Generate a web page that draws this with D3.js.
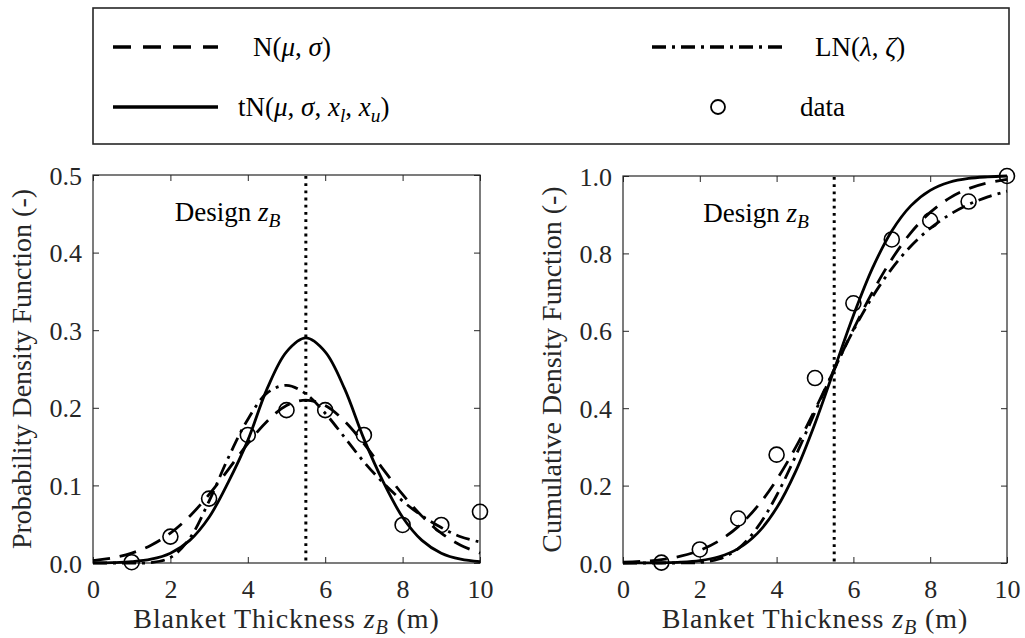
<!DOCTYPE html>
<html>
<head>
<meta charset="utf-8">
<script src="https://cdn.jsdelivr.net/npm/d3@7"></script>
<style>
  html, body { margin: 0; padding: 0; background: #fff; }
  svg { display: block; }
  text { font-family: "Liberation Serif", "DejaVu Serif", serif; }
</style>
</head>
<body>
<svg id="chart" width="1025" height="638" font-family="Liberation Serif, DejaVu Serif, serif"></svg>
<script>
// ---------------- data ----------------
const curveX = [0,0.5,1,1.5,2,2.5,3,3.5,4,4.5,5,5.5,6,6.5,7,7.5,8,8.5,9,9.5,10];

const pdfNormal = [0.0032,0.0066,0.0127,0.0229,0.0385,0.0604,0.0883,0.1207,0.1538,0.1828,0.2029,0.2100,0.2029,0.1828,0.1538,0.1207,0.0883,0.0604,0.0385,0.0229,0.0127];
const pdfTrunc  = [0.0001,0.0005,0.0017,0.0049,0.0127,0.0292,0.0590,0.1045,0.1580,0.2247,0.2721,0.2900,0.2721,0.2247,0.1600,0.1045,0.0590,0.0292,0.0127,0.0049,0.0017];
const pdfLogn   = [0,0,0,0.0005,0.0070,0.0319,0.0798,0.1360,0.1850,0.2191,0.2290,0.2180,0.1930,0.1620,0.1303,0.1032,0.0799,0.0608,0.0457,0.0339,0.0270];

const cdfNormal = [0.0019,0.0042,0.0089,0.0176,0.0327,0.0572,0.0941,0.1462,0.2150,0.2994,0.3962,0.5000,0.6038,0.7006,0.7850,0.8538,0.9059,0.9428,0.9673,0.9824,0.9911];
const cdfTrunc  = [0,0.0002,0.0007,0.0021,0.0062,0.0161,0.0371,0.0766,0.1420,0.2375,0.3605,0.5000,0.6395,0.7625,0.8580,0.9234,0.9629,0.9839,0.9938,0.9979,1.0000];
const cdfLogn   = [0,0,0,0.0001,0.0015,0.0102,0.0373,0.0919,0.1744,0.2776,0.3897,0.5000,0.6010,0.6884,0.7609,0.8192,0.8648,0.8998,0.9263,0.9460,0.9607];

const dataX   = [1,2,3,4,5,6,7,8,9,10];
const dataPdf = [0.001,0.034,0.083,0.165,0.197,0.197,0.165,0.049,0.049,0.066];
const dataCdf = [0.001,0.035,0.115,0.280,0.478,0.671,0.836,0.885,0.934,1.000];

const designZ = 5.5;
const xTicks   = [0,2,4,6,8,10];
const pdfTicks = [0,0.1,0.2,0.3,0.4,0.5];
const cdfTicks = [0,0.2,0.4,0.6,0.8,1.0];

// ---------------- drawing ----------------
const svg = d3.select("#chart");
const AX = "#262626";
const FONT = "Liberation Serif, DejaVu Serif, serif";
const styles = {
  normal: {dash: "17,10"},
  trunc:  {dash: null},
  logn:   {dash: "14,6,3,6"}
};

function addMath(sel, parts, size) {
  // parts: [text, italic?, sub?, unsub?]
  parts.forEach(p => {
    const t = sel.append("tspan").text(p[0]);
    if (p[1]) t.attr("font-style", "italic");
    if (p[2]) t.attr("font-size", size * 0.72).attr("dy", size * 0.22);
    if (p[3]) t.attr("dy", -size * 0.22);
  });
}

function panel(opts) {
  const {x0, x1, y0, y1, yDomain, yTicks, series, pts, ylabel, ylabelX} = opts;
  const g = svg.append("g").attr("font-family", FONT);
  const x = d3.scaleLinear().domain([0, 10]).range([x0, x1]);
  const y = d3.scaleLinear().domain(yDomain).range([y1, y0]);

  const fmt = d3.format(".1f");
  const bottom = g.append("g").attr("transform", `translate(0,${y1})`)
    .call(d3.axisBottom(x).tickValues(xTicks).tickSizeInner(-6).tickSizeOuter(0).tickPadding(17).tickFormat(d3.format("d")));
  const top = g.append("g").attr("transform", `translate(0,${y0})`)
    .call(d3.axisTop(x).tickValues(xTicks).tickSizeInner(-6).tickSizeOuter(0).tickFormat(""));
  const left = g.append("g").attr("transform", `translate(${x0},0)`)
    .call(d3.axisLeft(y).tickValues(yTicks).tickSizeInner(-6).tickSizeOuter(0).tickPadding(11).tickFormat(fmt));
  const right = g.append("g").attr("transform", `translate(${x1},0)`)
    .call(d3.axisRight(y).tickValues(yTicks).tickSizeInner(-6).tickSizeOuter(0).tickFormat(""));
  [bottom, top, left, right].forEach(a => {
    a.attr("font-family", FONT).attr("font-size", 26);
    a.select(".domain").remove();
    a.selectAll(".tick line").attr("stroke", AX).attr("stroke-width", 1);
    a.selectAll(".tick text").attr("fill", AX);
  });
  bottom.selectAll(".tick text").attr("dy", "0.71em");
  left.selectAll(".tick text").attr("dy", "0.35em");

  g.append("rect").attr("x", x0).attr("y", y0).attr("width", x1 - x0).attr("height", y1 - y0)
    .attr("fill", "none").attr("stroke", AX).attr("stroke-width", 1.2);

  g.append("line").attr("x1", x(designZ)).attr("x2", x(designZ))
    .attr("y1", y0 + 1).attr("y2", y1 - 1)
    .attr("stroke", "#000").attr("stroke-width", 3).attr("stroke-dasharray", "2.8,4.4");

  const dl = g.append("text").attr("x", x(designZ) - 131).attr("y", y0 + 46)
    .attr("font-size", 27).attr("fill", "#000");
  addMath(dl, [["Design "], ["z", true], ["B", true, true]], 27);

  const line = d3.line().x((d, i) => x(curveX[i])).y(d => y(d)).curve(d3.curveCatmullRom.alpha(0.5));
  series.forEach(s => {
    const p = g.append("path").attr("d", line(s.values)).attr("fill", "none")
      .attr("stroke", "#000").attr("stroke-width", 2.8).attr("stroke-linejoin", "round");
    if (s.style.dash) p.attr("stroke-dasharray", s.style.dash);
  });

  g.selectAll("circle.pt").data(pts).join("circle").attr("class", "pt")
    .attr("cx", (d, i) => x(dataX[i])).attr("cy", d => y(d)).attr("r", 7.5)
    .attr("fill", "none").attr("stroke", "#000").attr("stroke-width", 1.6);

  const xl = g.append("text").attr("x", (x0 + x1) / 2).attr("y", 628)
    .attr("text-anchor", "middle").attr("font-size", 28).attr("fill", AX).attr("letter-spacing", 0.9);
  addMath(xl, [["Blanket Thickness "], ["z", true], ["B", true, true], [" (m)", false, false, true]], 28);

  g.append("text").attr("transform", `translate(${ylabelX},${(y0 + y1) / 2}) rotate(-90)`)
    .attr("text-anchor", "middle").attr("font-size", 28).attr("fill", AX)
    .text(ylabel);
}

panel({
  x0: 93, x1: 480, y0: 175, y1: 563,
  yDomain: [0, 0.5], yTicks: pdfTicks,
  series: [
    {values: pdfNormal, style: styles.normal},
    {values: pdfLogn, style: styles.logn},
    {values: pdfTrunc, style: styles.trunc}
  ],
  pts: dataPdf,
  ylabel: "Probability Density Function (-)", ylabelX: 31
});

panel({
  x0: 623, x1: 1007, y0: 176, y1: 563,
  yDomain: [0, 1], yTicks: cdfTicks,
  series: [
    {values: cdfNormal, style: styles.normal},
    {values: cdfLogn, style: styles.logn},
    {values: cdfTrunc, style: styles.trunc}
  ],
  pts: dataCdf,
  ylabel: "Cumulative Density Function (-)", ylabelX: 561
});

// ---------------- legend ----------------
const lg = svg.append("g").attr("font-family", FONT);
lg.append("rect").attr("x", 93).attr("y", 8).attr("width", 916).attr("height", 136)
  .attr("fill", "#fff").attr("stroke", AX).attr("stroke-width", 1.6);

const row1 = 47, row2 = 107, LS = 27;
lg.append("line").attr("x1", 113).attr("x2", 218).attr("y1", row1).attr("y2", row1)
  .attr("stroke", "#000").attr("stroke-width", 3.6).attr("stroke-dasharray", "18,12");
addMath(lg.append("text").attr("x", 253).attr("y", row1 + 9).attr("font-size", LS),
  [["N("], ["μ", true], [", "], ["σ", true], [")"]], LS);

lg.append("line").attr("x1", 113).attr("x2", 218).attr("y1", row2).attr("y2", row2)
  .attr("stroke", "#000").attr("stroke-width", 3.6);
addMath(lg.append("text").attr("x", 238).attr("y", row2 + 9).attr("font-size", LS),
  [["tN("], ["μ", true], [", "], ["σ", true], [", "], ["x", true], ["l", true, true], [", ", false, false, true], ["x", true], ["u", true, true], [")", false, false, true]], LS);

lg.append("line").attr("x1", 652).attr("x2", 785).attr("y1", row1).attr("y2", row1)
  .attr("stroke", "#000").attr("stroke-width", 3.6).attr("stroke-dasharray", "14,6,3,6");
addMath(lg.append("text").attr("x", 815).attr("y", row1 + 9).attr("font-size", LS),
  [["LN("], ["λ", true], [", "], ["ζ", true], [")"]], LS);

lg.append("circle").attr("cx", 718).attr("cy", row2).attr("r", 7)
  .attr("fill", "none").attr("stroke", "#000").attr("stroke-width", 1.8);
lg.append("text").attr("x", 800).attr("y", row2 + 9).attr("font-size", LS).text("data");
</script>
</body>
</html>
